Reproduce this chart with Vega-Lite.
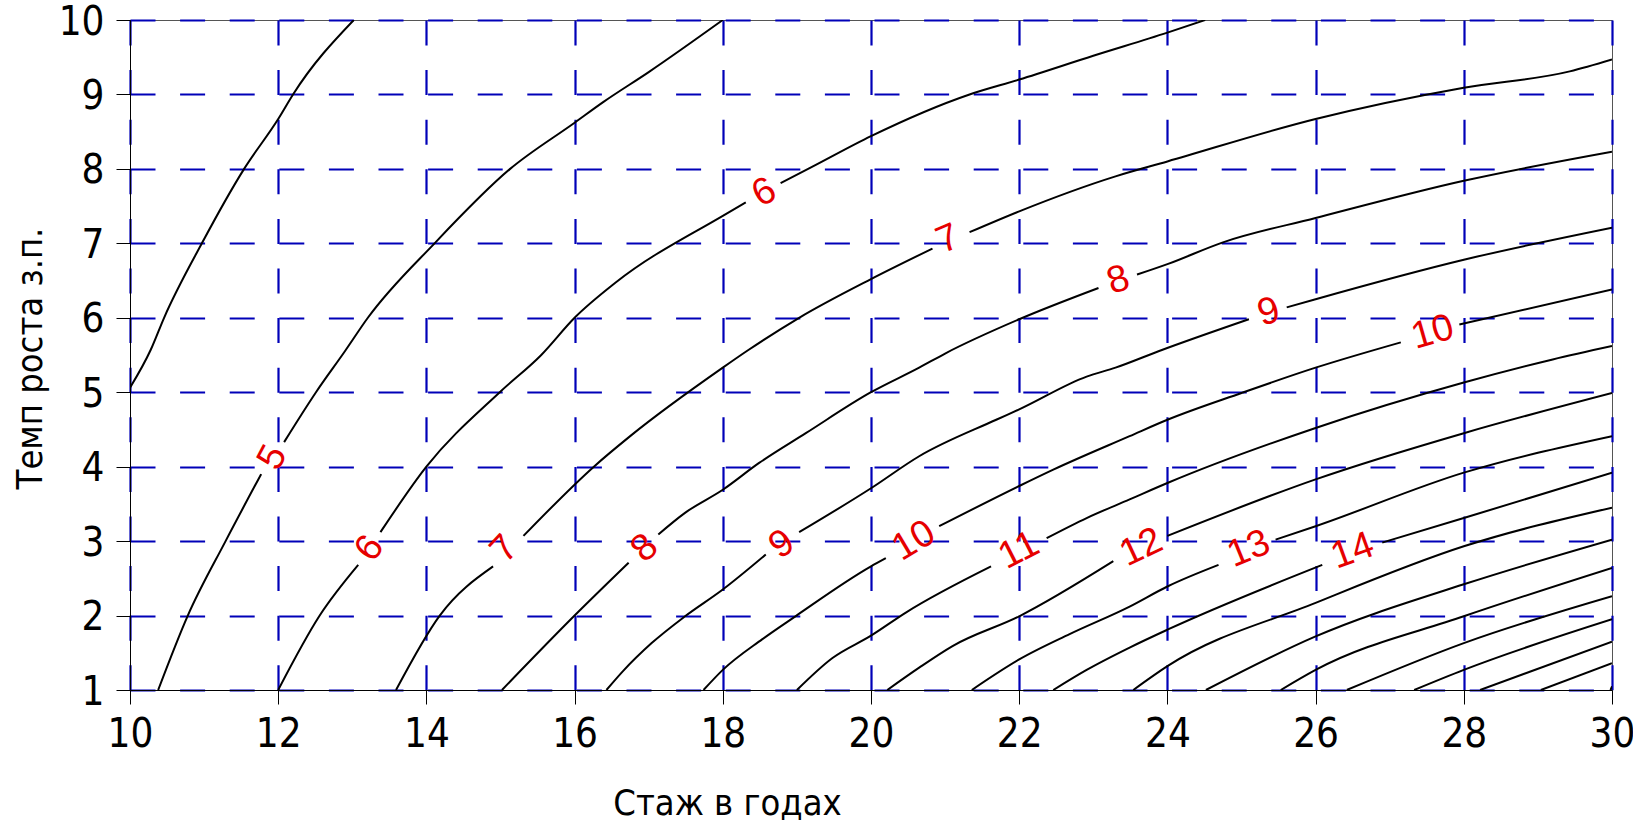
{
  "$schema": "https://vega.github.io/schema/vega-lite/v6.json",
  "width": 1482,
  "height": 670,
  "autosize": "none",
  "padding": {"left": 130, "top": 20, "right": 21, "bottom": 133},
  "background": "white",
  "config": {"view": {"stroke": "#555555", "strokeWidth": 1}},
  "datasets": {
    "lines": [
      {"s":"4","x":10,"y":5.06},{"s":"4","x":10.28,"y":5.57},{"s":"4","x":10.46,"y":6},{"s":"4","x":10.97,"y":7},{"s":"4","x":11.54,"y":8},{"s":"4","x":12.0,"y":8.67},{"s":"4","x":12.2,"y":9},{"s":"4","x":13.02,"y":10},
      {"s":"5a","x":10.38,"y":1},{"s":"5a","x":10.78,"y":2},{"s":"5a","x":11.29,"y":3},{"s":"5a","x":11.77,"y":3.9},
      {"s":"5b","x":12.08,"y":4.33},{"s":"5b","x":12.51,"y":5},{"s":"5b","x":12.9,"y":5.55},{"s":"5b","x":13.21,"y":6},{"s":"5b","x":14.11,"y":7},{"s":"5b","x":15.13,"y":8},{"s":"5b","x":16.0,"y":8.62},{"s":"5b","x":16.39,"y":8.9},{"s":"5b","x":17.0,"y":9.3},{"s":"5b","x":18.0,"y":10},
      {"s":"6a","x":12,"y":1},{"s":"6a","x":12.56,"y":2},{"s":"6a","x":13.08,"y":2.68},
      {"s":"6b","x":13.38,"y":3.12},{"s":"6b","x":14,"y":4},{"s":"6b","x":14.99,"y":5},{"s":"6b","x":15.55,"y":5.5},{"s":"6b","x":16,"y":6},{"s":"6b","x":16.55,"y":6.47},{"s":"6b","x":18,"y":7.37},{"s":"6b","x":18.31,"y":7.55},
      {"s":"6c","x":18.78,"y":7.81},{"s":"6c","x":19.21,"y":8.03},{"s":"6c","x":20,"y":8.44},{"s":"6c","x":21.33,"y":9},{"s":"6c","x":22,"y":9.2},{"s":"6c","x":23,"y":9.52},{"s":"6c","x":24,"y":9.83},{"s":"6c","x":24.51,"y":10},
      {"s":"7a","x":13.59,"y":1},{"s":"7a","x":14.18,"y":2},{"s":"7a","x":14.9,"y":2.66},
      {"s":"7b","x":15.31,"y":3.07},{"s":"7b","x":16.26,"y":4},{"s":"7b","x":16.75,"y":4.41},{"s":"7b","x":18,"y":5.33},{"s":"7b","x":18.35,"y":5.57},{"s":"7b","x":19.03,"y":6},{"s":"7b","x":20,"y":6.52},{"s":"7b","x":20.83,"y":6.93},
      {"s":"7c","x":21.33,"y":7.15},{"s":"7c","x":22,"y":7.43},{"s":"7c","x":23.3,"y":7.9},{"s":"7c","x":24,"y":8.1},{"s":"7c","x":26,"y":8.67},{"s":"7c","x":28,"y":9.09},{"s":"7c","x":29.43,"y":9.31},{"s":"7c","x":30,"y":9.47},
      {"s":"8a","x":15.02,"y":1},{"s":"8a","x":16,"y":2},{"s":"8a","x":16.73,"y":2.71},
      {"s":"8b","x":17.13,"y":3.09},{"s":"8b","x":17.49,"y":3.38},{"s":"8b","x":18,"y":3.69},{"s":"8b","x":18.49,"y":4.05},{"s":"8b","x":19.12,"y":4.45},{"s":"8b","x":20,"y":5.0},{"s":"8b","x":20.65,"y":5.33},{"s":"8b","x":21,"y":5.52},{"s":"8b","x":22,"y":5.98},{"s":"8b","x":23.07,"y":6.4},
      {"s":"8c","x":23.59,"y":6.58},{"s":"8c","x":24,"y":6.72},{"s":"8c","x":24.74,"y":7.01},{"s":"8c","x":26,"y":7.34},{"s":"8c","x":28,"y":7.84},{"s":"8c","x":30,"y":8.23},
      {"s":"9a","x":16.43,"y":1},{"s":"9a","x":16.65,"y":1.25},{"s":"9a","x":17.04,"y":1.63},{"s":"9a","x":17.49,"y":1.99},{"s":"9a","x":18,"y":2.35},{"s":"9a","x":18.58,"y":2.82},
      {"s":"9b","x":19.03,"y":3.12},{"s":"9b","x":20,"y":3.71},{"s":"9b","x":20.65,"y":4.14},{"s":"9b","x":21.69,"y":4.63},{"s":"9b","x":22,"y":4.77},{"s":"9b","x":22.91,"y":5.21},{"s":"9b","x":23.3,"y":5.33},{"s":"9b","x":23.88,"y":5.55},{"s":"9b","x":25.1,"y":5.98},
      {"s":"9c","x":25.61,"y":6.14},{"s":"9c","x":26,"y":6.25},{"s":"9c","x":28,"y":6.78},{"s":"9c","x":30,"y":7.21},
      {"s":"10a","x":17.74,"y":1},{"s":"10a","x":18,"y":1.27},{"s":"10a","x":18.53,"y":1.68},{"s":"10a","x":18.98,"y":1.99},{"s":"10a","x":20,"y":2.66},{"s":"10a","x":20.2,"y":2.77},
      {"s":"10b","x":20.92,"y":3.2},{"s":"10b","x":22,"y":3.74},{"s":"10b","x":22.46,"y":3.96},{"s":"10b","x":23.49,"y":4.41},{"s":"10b","x":24,"y":4.63},{"s":"10b","x":25,"y":4.99},{"s":"10b","x":26,"y":5.33},{"s":"10b","x":27.15,"y":5.67},
      {"s":"10c","x":27.94,"y":5.91},{"s":"10c","x":30,"y":6.38},
      {"s":"11a","x":19.0,"y":1},{"s":"11a","x":19.48,"y":1.43},{"s":"11a","x":20,"y":1.73},{"s":"11a","x":20.47,"y":2.04},{"s":"11a","x":21.62,"y":2.66},
      {"s":"11b","x":22.37,"y":3.04},{"s":"11b","x":22.91,"y":3.31},{"s":"11b","x":23.49,"y":3.56},{"s":"11b","x":24,"y":3.78},{"s":"11b","x":26,"y":4.52},{"s":"11b","x":28,"y":5.13},{"s":"11b","x":29.2,"y":5.44},{"s":"11b","x":30,"y":5.62},
      {"s":"12a","x":20.22,"y":1},{"s":"12a","x":20.65,"y":1.3},{"s":"12a","x":21.1,"y":1.59},{"s":"12a","x":22,"y":1.99},{"s":"12a","x":23.27,"y":2.73},
      {"s":"12b","x":24,"y":3.07},{"s":"12b","x":26,"y":3.83},{"s":"12b","x":28,"y":4.45},{"s":"12b","x":30,"y":4.99},
      {"s":"13a","x":21.36,"y":1},{"s":"13a","x":22,"y":1.41},{"s":"13a","x":22.68,"y":1.75},{"s":"13a","x":23.49,"y":2.12},{"s":"13a","x":24,"y":2.39},{"s":"13a","x":24.69,"y":2.68},
      {"s":"13b","x":25.46,"y":3.02},{"s":"13b","x":26,"y":3.2},{"s":"13b","x":28,"y":3.92},{"s":"13b","x":30,"y":4.41},
      {"s":"14a","x":22.46,"y":1},{"s":"14a","x":22.91,"y":1.27},{"s":"14a","x":23.49,"y":1.57},{"s":"14a","x":24,"y":1.81},{"s":"14a","x":26.09,"y":2.68},
      {"s":"14b","x":26.9,"y":2.98},{"s":"14b","x":28,"y":3.31},{"s":"14b","x":30,"y":3.92},
      {"s":"15","x":23.54,"y":1},{"s":"15","x":24,"y":1.32},{"s":"15","x":26,"y":2.17},{"s":"15","x":28,"y":2.93},{"s":"15","x":30,"y":3.45},
      {"s":"16","x":24.52,"y":1},{"s":"16","x":26,"y":1.72},{"s":"16","x":28,"y":2.42},{"s":"16","x":30,"y":3.02},
      {"s":"17","x":25.53,"y":1},{"s":"17","x":26,"y":1.27},{"s":"17","x":28,"y":1.99},{"s":"17","x":30,"y":2.64},
      {"s":"18","x":26.42,"y":1},{"s":"18","x":28,"y":1.63},{"s":"18","x":30,"y":2.26},
      {"s":"19","x":27.33,"y":1},{"s":"19","x":28,"y":1.27},{"s":"19","x":30,"y":1.95},
      {"s":"20","x":28.22,"y":1},{"s":"20","x":30,"y":1.65},
      {"s":"21","x":29.04,"y":1},{"s":"21","x":30,"y":1.36},
      {"s":"22","x":29.98,"y":1},{"s":"22","x":30,"y":1.05}
    ],
    "labels": [
      {"t":"5","x":11.93,"y":4.12,"a":-62},
      {"t":"6","x":13.24,"y":2.9,"a":-55},
      {"t":"7","x":15.06,"y":2.89,"a":-47},
      {"t":"8","x":16.95,"y":2.9,"a":-42},
      {"t":"9","x":18.8,"y":2.95,"a":-34},
      {"t":"10","x":20.58,"y":3.0,"a":-31},
      {"t":"11","x":22.0,"y":2.87,"a":-27},
      {"t":"12","x":23.65,"y":2.91,"a":-25},
      {"t":"13","x":25.1,"y":2.89,"a":-22},
      {"t":"14","x":26.5,"y":2.86,"a":-20},
      {"t":"6","x":18.56,"y":7.68,"a":-28},
      {"t":"7","x":21.04,"y":7.05,"a":-23},
      {"t":"8","x":23.34,"y":6.5,"a":-18},
      {"t":"9","x":25.37,"y":6.07,"a":-16},
      {"t":"10","x":27.58,"y":5.8,"a":-16}
    ]
  },
  "layer": [
    {
      "data": {"name": "lines"},
      "mark": {"type": "line", "color": "black", "strokeWidth": 2, "clip": true, "interpolate": "monotone"},
      "encoding": {
        "x": {"field": "x", "type": "quantitative",
          "scale": {"domain": [10, 30], "nice": false, "zero": false},
          "axis": {
            "values": [10,12,14,16,18,20,22,24,26,28,30], "format": "d",
            "grid": true, "gridColor": "#0000b8", "gridDash": [25, 24.6], "gridWidth": 2.2, "gridOpacity": 1,
            "domainColor": "black", "domainWidth": 1, "tickColor": "black", "tickSize": 14, "tickWidth": 1,
            "labelFont": "Liberation Sans Narrow, DejaVu Sans Condensed, Liberation Sans, Arial, sans-serif", "labelFontSize": 40, "labelColor": "black", "labelPadding": 10,
            "labelFlush": false, "labelOverlap": false,
            "title": "Стаж в годах", "titleFont": "Liberation Sans Narrow, DejaVu Sans Condensed, Liberation Sans, Arial, sans-serif", "titleFontSize": 36, "titleFontWeight": "normal",
            "titleColor": "black", "titleX": 597, "titleY": 124, "titleAlign": "center", "titleBaseline": "alphabetic"
          }
        },
        "y": {"field": "y", "type": "quantitative",
          "scale": {"domain": [1, 10], "nice": false, "zero": false},
          "axis": {
            "values": [1,2,3,4,5,6,7,8,9,10], "format": "d",
            "grid": true, "gridColor": "#0000b8", "gridDash": [25, 24.6], "gridWidth": 2.2, "gridOpacity": 1,
            "domainColor": "black", "domainWidth": 1, "tickColor": "black", "tickSize": 14, "tickWidth": 1,
            "labelFont": "Liberation Sans Narrow, DejaVu Sans Condensed, Liberation Sans, Arial, sans-serif", "labelFontSize": 40, "labelColor": "black", "labelPadding": 12, "labelOffset": 2,
            "labelFlush": false, "labelOverlap": false,
            "title": "Темп роста з.п.", "titleFont": "Liberation Sans Narrow, DejaVu Sans Condensed, Liberation Sans, Arial, sans-serif", "titleFontSize": 36, "titleFontWeight": "normal",
            "titleColor": "black", "titleAngle": -90, "titleX": -100, "titleY": 338, "titleAlign": "center", "titleBaseline": "middle"
          }
        },
        "detail": {"field": "s"}
      }
    },
    {
      "data": {"name": "labels"},
      "mark": {"type": "text", "color": "#e60000", "fontSize": 38, "font": "Liberation Sans, Arial, sans-serif", "align": "center", "baseline": "middle"},
      "encoding": {
        "x": {"field": "x", "type": "quantitative"},
        "y": {"field": "y", "type": "quantitative"},
        "text": {"field": "t"},
        "angle": {"field": "a", "type": "quantitative", "scale": null}
      }
    }
  ]
}
